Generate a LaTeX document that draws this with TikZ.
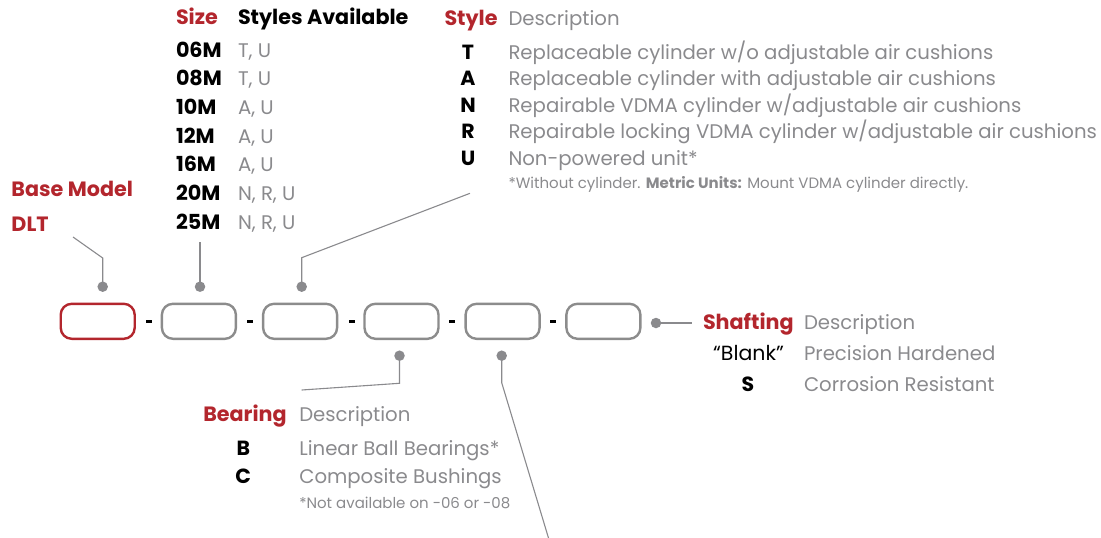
\documentclass[tikz,border=0pt]{standalone}
\usepackage{fontspec}
\setmainfont{Poppins}
\definecolor{brandred}{HTML}{B3262D}
\definecolor{txtgray}{HTML}{8A8A8D}
\definecolor{linegray}{HTML}{8A8A8D}
\definecolor{boxgray}{HTML}{8C8C8C}
\begin{document}
\begin{tikzpicture}[x=1pt,y=-1pt,
  every node/.style={inner sep=0pt, outer sep=0pt},
  codebox/.style={draw=boxgray, line width=2.4pt, rounded corners=11pt, minimum width=74pt, minimum height=35pt},
  redbox/.style={codebox, draw=brandred},
  dashmark/.style={fill=black, minimum width=6pt, minimum height=3.5pt},
  pin/.style={circle, fill=linegray, minimum size=10.5pt},
  leader/.style={draw=linegray, line width=1.1pt},
  hdr/.style={font=\fontsize{20.7}{24}\selectfont\bfseries, text=brandred, anchor=base west},
  hdrblk/.style={font=\fontsize{20.7}{24}\selectfont\bfseries, text=black, anchor=base west},
  code/.style={font=\fontsize{20.5}{24}\selectfont\bfseries, text=black},
  desc/.style={font=\fontsize{19.7}{23}\selectfont, text=txtgray, anchor=base west},
  note/.style={font=\fontsize{15}{18}\selectfont, text=txtgray, anchor=base west}
]
\useasboundingbox (0,0) rectangle (1101,538);

% code boxes
\node[redbox]  (b1) at (97.7,321.3) {};
\node[codebox] (b2) at (198.9,321.3) {};
\node[codebox] (b3) at (300.1,321.3) {};
\node[codebox] (b4) at (401.5,321.3) {};
\node[codebox] (b5) at (502.6,321.3) {};
\node[codebox] (b6) at (603.4,321.3) {};
% dashes
\node[dashmark] (m1) at (149,321.5) {};
\node[dashmark] (m2) at (250,321.5) {};
\node[dashmark] (m3) at (351.5,321.5) {};
\node[dashmark] (m4) at (452.3,321.5) {};
\node[dashmark] (m5) at (552.5,321.5) {};

% pins
\node[pin] (d1) at (102.7,286.7) {};
\node[pin] (d2) at (200,286.7) {};
\node[pin] (d3) at (301.7,286.7) {};
\node[pin] (d4) at (399.5,355.7) {};
\node[pin] (d5) at (501.7,355.7) {};
\node[pin] (d6) at (656,323) {};

\coordinate (e1a) at (102.7,258);
\coordinate (e1b) at (73,237);
\coordinate (e2)  at (200,242);
\coordinate (e3a) at (301.7,257.7);
\coordinate (e3b) at (470,193.3);
\coordinate (e4a) at (399.5,383.3);
\coordinate (e4b) at (301.7,390);
\coordinate (e5a) at (501.7,382.7);
\coordinate (e5b) at (548.5,538);
\coordinate (e6)  at (692,323);

\draw[leader] (d1.center) -- (e1a) -- (e1b);
\draw[leader] (d2.center) -- (e2);
\draw[leader] (d3.center) -- (e3a) -- (e3b);
\draw[leader] (d4.center) -- (e4a) -- (e4b);
\draw[leader] (d5.center) -- (e5a) -- (e5b);
\draw[leader] (d6.center) -- (e6);

% base model
\node[hdr] (bm) at (11.5,196) {Base Model};
\node[hdr] (dlt) at (11.5,231) {DLT};

% size table
\node[hdr] (sizeh) at (176,24) {Size};
\node[hdrblk] (stylesh) at (238,24) {Styles Available};
\node[hdrblk] (s1) at (176,57)  {06M}; \node[desc] (v1) at (238,57)  {T, U};
\node[hdrblk] (s2) at (176,85.7)  {08M}; \node[desc] (v2) at (238,85.7)  {T, U};
\node[hdrblk] (s3) at (176,114.4) {10M}; \node[desc] (v3) at (238,114.4) {A, U};
\node[hdrblk] (s4) at (176,143.1) {12M}; \node[desc] (v4) at (238,143.1) {A, U};
\node[hdrblk] (s5) at (176,171.8) {16M}; \node[desc] (v5) at (238,171.8) {A, U};
\node[hdrblk] (s6) at (176,200.5) {20M}; \node[desc] (v6) at (238,200.5) {N, R, U};
\node[hdrblk] (s7) at (176,229.2) {25M}; \node[desc] (v7) at (238,229.2) {N, R, U};

% style table
\node[hdr] (styleh) at (444.5,25) {Style};
\node[desc] (styled) at (508.5,25) {Description};
\node[code, anchor=base] (t1) at (468,59)  {T}; \node[desc] (u1) at (508.5,59)  {Replaceable cylinder w/o adjustable air cushions};
\node[code, anchor=base] (t2) at (468,85.5) {A}; \node[desc] (u2) at (508.5,85.5) {Replaceable cylinder with adjustable air cushions};
\node[code, anchor=base] (t3) at (468,112)  {N}; \node[desc] (u3) at (508.5,112)  {Repairable VDMA cylinder w/adjustable air cushions};
\node[code, anchor=base] (t4) at (468,138.5) {R}; \node[desc] (u4) at (508.5,138.5) {Repairable locking VDMA cylinder w/adjustable air cushions};
\node[code, anchor=base] (t5) at (468,165)  {U}; \node[desc] (u5) at (508.5,165)  {Non-powered unit*};
\node[note] (n1) at (508.5,188.5) {*Without cylinder. \textbf{Metric Units:} Mount VDMA cylinder directly.};

% shafting
\node[hdr] (shh) at (703,329.5) {Shafting};
\node[desc] (shd) at (804,329.5) {Description};
\node[code, anchor=base] (sh1) at (748.5,360) {\mdseries “Blank”};
\node[desc] (shv1) at (804,360) {Precision Hardened};
\node[code, anchor=base] (sh2) at (748,391) {S};
\node[desc] (shv2) at (804,391) {Corrosion Resistant};

% bearing
\node[hdr] (brh) at (203.3,421) {Bearing};
\node[desc] (brd) at (299.3,421) {Description};
\node[code, anchor=base] (br1) at (243.3,455) {B};
\node[desc] (brv1) at (299.3,455) {Linear Ball Bearings*};
\node[code, anchor=base] (br2) at (243.3,483) {C};
\node[desc] (brv2) at (299.3,483) {Composite Bushings};
\node[note] (n2) at (299.3,508.5) {*Not available on -06 or -08};
\end{tikzpicture}
\end{document}
